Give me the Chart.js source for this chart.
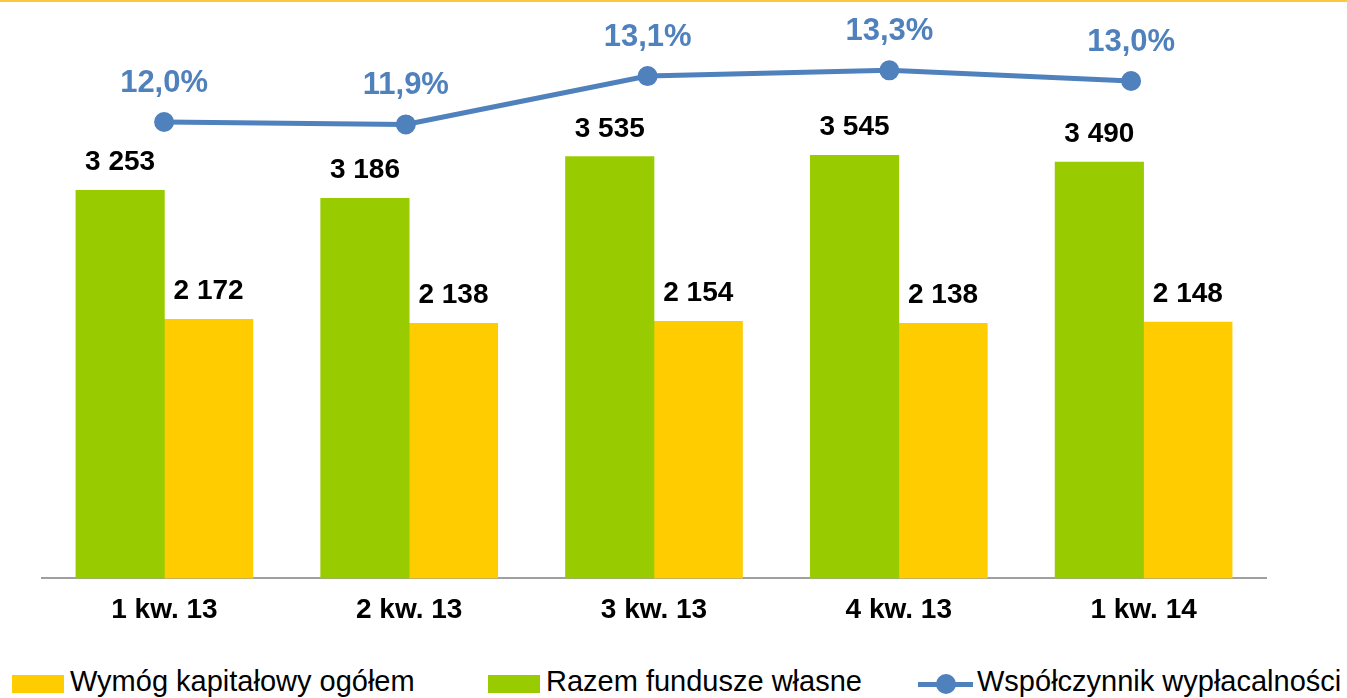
<!DOCTYPE html>
<html lang="pl">
<head>
<meta charset="utf-8">
<script src="https://cdn.jsdelivr.net/npm/chart.js@4.4.1/dist/chart.umd.min.js"></script>
<style>
  html, body { margin: 0; padding: 0; background: #fff; }
  body { width: 1347px; height: 698px; position: relative; overflow: hidden;
         font-family: "Liberation Sans", Arial, sans-serif; }
  #topline { position: absolute; left: 0; top: 0; width: 100%; height: 2px; background: #fac83a; z-index: 2; }
  #wrap { position: absolute; left: 0; top: 0; width: 1347px; height: 642px; }
  #legend { position: absolute; left: 0; top: 662px; width: 100%; height: 38px; }
  .item { position: absolute; top: 0; height: 38px; display: flex; align-items: center;
          font-size: 29px; line-height: 38px; color: #000; white-space: nowrap; }
  .box { width: 52px; height: 18px; margin-right: 6px; position: relative; top: 3px; }
  .mark { width: 55px; height: 20px; margin-right: 4px; position: relative; top: 3px; }
  .mark:before { content: ''; position: absolute; left: 0; right: 0; top: 7.5px; height: 5px; background: #4f81bd; }
  .mark:after { content: ''; position: absolute; left: 17.5px; top: 0; width: 20px; height: 20px;
                border-radius: 50%; background: #4f81bd; }
</style>
</head>
<body>
<div id="topline"></div>
<div id="wrap"><canvas id="myChart"></canvas></div>
<div id="legend"></div>

<script>
var quarters = ['1 kw. 13', '2 kw. 13', '3 kw. 13', '4 kw. 13', '1 kw. 14'];
var ownFunds = [3253, 3186, 3535, 3545, 3490];      // Razem fundusze własne
var capitalReq = [2172, 2138, 2154, 2138, 2148];    // Wymóg kapitałowy ogółem
var solvency = [12.0, 11.94, 13.12, 13.26, 13.0];   // Współczynnik wypłacalności, %

var nameReq = 'Wymóg kapitałowy ogółem';
var nameFunds = 'Razem fundusze własne';
var nameSolvency = 'Współczynnik wypłacalności';

var GREEN = '#99cc00';
var YELLOW = '#ffcc00';
var BLUE = '#4f81bd';
var FONT = '"Liberation Sans", Arial, sans-serif';

Chart.defaults.font.family = FONT;

function fmtNum(v) {
  return String(v).replace(/\B(?=(\d{3})+(?!\d))/g, ' ');
}

function fmtPct(v) {
  return v.toFixed(1).replace('.', ',') + '%';
}

// numbers above bars and points
var valueLabels = {
  id: 'valueLabels',
  afterDatasetsDraw: function(chart) {
    var ctx = chart.ctx;
    ctx.save();
    ctx.textAlign = 'center';
    ctx.textBaseline = 'alphabetic';
    chart.data.datasets.forEach(function(ds, i) {
      var meta = chart.getDatasetMeta(i);
      meta.data.forEach(function(el, j) {
        if (ds.type === 'line') {
          ctx.font = 'bold 31px ' + FONT;
          ctx.fillStyle = BLUE;
          ctx.fillText(fmtPct(ds.data[j].y), el.x, el.y - 30);
        } else {
          ctx.font = 'bold 28px ' + FONT;
          ctx.fillStyle = '#000000';
          ctx.fillText(fmtNum(ds.data[j]), el.x, el.y - 20);
        }
      });
    });
    ctx.restore();
  }
};

var chart = new Chart(document.getElementById('myChart'), {
  type: 'bar',
  data: {
    labels: quarters,
    datasets: [
      {
        type: 'line',
        label: nameSolvency,
        data: solvency.map(function(v, i) { return { x: i, y: v }; }),
        xAxisID: 'x2',
        yAxisID: 'y2',
        borderColor: BLUE,
        backgroundColor: BLUE,
        borderWidth: 5,
        pointRadius: 9,
        pointBorderWidth: 2,
        pointBackgroundColor: BLUE,
        pointBorderColor: BLUE,
        tension: 0,
        order: 0
      },
      {
        label: nameFunds,
        data: ownFunds,
        backgroundColor: GREEN,
        barThickness: 88.5,
        order: 1
      },
      {
        label: nameReq,
        data: capitalReq,
        backgroundColor: YELLOW,
        barThickness: 88.5,
        order: 1
      }
    ]
  },
  options: {
    responsive: true,
    maintainAspectRatio: false,
    animation: false,
    events: [],
    layout: {
      padding: { left: 42, right: 81, top: 41.5, bottom: 0 }
    },
    scales: {
      x: {
        grid: { display: false, drawTicks: false },
        border: { color: '#a0a0a0', width: 2 },
        ticks: {
          color: '#000000',
          padding: 15,
          font: { size: 28, weight: 'bold' }
        }
      },
      // the line sits on its own axis, slightly narrower than the bar groups
      x2: {
        type: 'linear',
        display: false,
        offset: false,
        min: -0.505,
        max: 4.558
      },
      y: {
        display: false,
        min: 0,
        max: 4500
      },
      y2: {
        display: false,
        min: 0.868,
        max: 13.963
      }
    },
    plugins: {
      legend: { display: false },
      tooltip: { enabled: false }
    }
  },
  plugins: [valueLabels]
});

// legend below the chart
var legendItems = [
  { text: nameReq, color: YELLOW, kind: 'box', left: 12 },
  { text: nameFunds, color: GREEN, kind: 'box', left: 488 },
  { text: nameSolvency, color: BLUE, kind: 'mark', left: 918 }
];
var legend = document.getElementById('legend');
legendItems.forEach(function(it) {
  var item = document.createElement('div');
  item.className = 'item';
  item.style.left = it.left + 'px';
  var sw = document.createElement('span');
  sw.className = it.kind;
  if (it.kind === 'box') sw.style.background = it.color;
  var txt = document.createElement('span');
  txt.textContent = it.text;
  item.appendChild(sw);
  item.appendChild(txt);
  legend.appendChild(item);
});
</script>
</body>
</html>
